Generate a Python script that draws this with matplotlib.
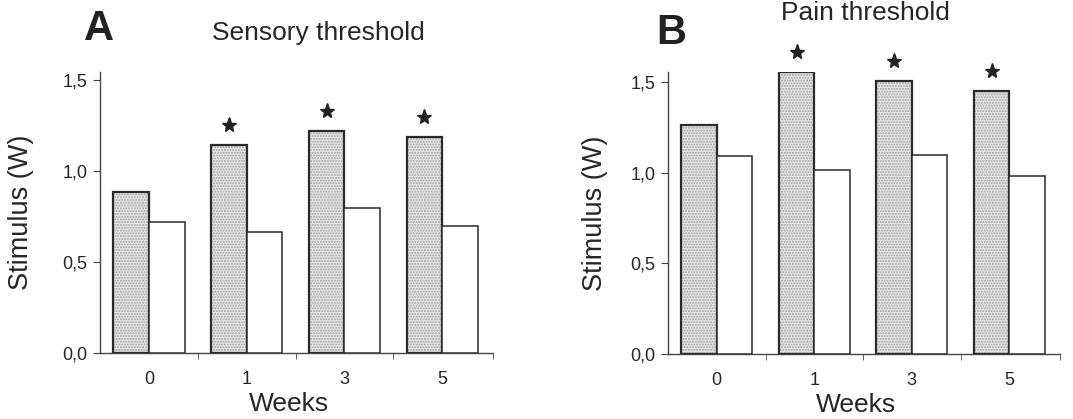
import matplotlib.pyplot as plt
import numpy as np

plt.rcParams['font.family'] = ['Liberation Sans', 'DejaVu Sans']

weeks = ['0', '1', '3', '5']

# panel A: sensory threshold
sensory_gray = [0.885, 1.143, 1.22, 1.19]
sensory_white = [0.72, 0.665, 0.80, 0.70]
sensory_star = [False, True, True, True]

# panel B: pain threshold
pain_gray = [1.263, 1.555, 1.506, 1.45]
pain_white = [1.09, 1.015, 1.10, 0.98]
pain_star = [False, True, True, True]

fig = plt.figure(figsize=(10.73, 4.19), dpi=100)

edge = '#2a2a2a'
axis_col = '#444444'
txt = '#262626'
w = 0.365


def draw_panel(ax, gray, white, stars, ytop, ylab_x):
    x = np.arange(len(weeks))
    # stippled fill first, outline on top
    ax.bar(x - w / 2, gray, width=w, color='#e6e6e6', edgecolor='#a4a4a4',
           hatch='......', linewidth=0, zorder=2)
    ax.bar(x - w / 2, gray, width=w, color='none', edgecolor=edge,
           linewidth=1.6, zorder=3)
    ax.bar(x + w / 2, white, width=w, color='white', edgecolor=edge,
           linewidth=1.1, zorder=3)
    for xi, g, s in zip(x, gray, stars):
        if s:
            ax.plot(xi - w / 2, g + 0.11, marker='*', markersize=11,
                    color='#222222', clip_on=False, zorder=4)
    ax.set_xlim(-0.5, 3.52)
    ax.set_ylim(0, ytop)
    ax.set_yticks([0, 0.5, 1.0, 1.5])
    ax.set_yticklabels(['0,0', '0,5', '1,0', '1,5'], fontsize=13, color=txt)
    ax.set_xticks(x)
    ax.set_xticklabels(weeks, fontsize=13, color=txt)
    ax.set_xticks([0.5, 1.5, 2.5, 3.52], minor=True)
    ax.tick_params(axis='x', which='major', length=0, pad=13)
    ax.tick_params(axis='x', which='minor', length=4, color=axis_col)
    ax.tick_params(axis='y', length=5, color=axis_col, pad=4)
    for side in ['top', 'right']:
        ax.spines[side].set_visible(False)
    for side in ['left', 'bottom']:
        ax.spines[side].set_color(axis_col)
        ax.spines[side].set_linewidth(1.0)
    ax.set_xlabel('Weeks', fontsize=19, color=txt, va='center')
    ax.xaxis.set_label_coords(0.48, -0.18)
    ax.set_ylabel('Stimulus (W)', fontsize=19.5, color=txt, va='center')
    ax.yaxis.set_label_coords(ylab_x, 0.5)


ax1 = fig.add_axes([0.0932, 0.1575, 0.3663, 0.6706])
draw_panel(ax1, sensory_gray, sensory_white, sensory_star, 1.545, -0.20)

ax2 = fig.add_axes([0.6226, 0.1551, 0.3653, 0.6730])
draw_panel(ax2, pain_gray, pain_white, pain_star, 1.555, -0.186)

fig.text(99 / 1073, 1 - 29 / 419, 'A', fontsize=30, fontweight='bold',
         ha='center', va='center', color='#222222')
fig.text(318 / 1073, 1 - 33 / 419, 'Sensory threshold', fontsize=19,
         ha='center', va='center', color=txt)
fig.text(671 / 1073, 1 - 33 / 419, 'B', fontsize=30, fontweight='bold',
         ha='center', va='center', color='#222222')
fig.text(865 / 1073, 1 - 13 / 419, 'Pain threshold', fontsize=19,
         ha='center', va='center', color=txt)

fig.savefig('out.png', dpi=100)
